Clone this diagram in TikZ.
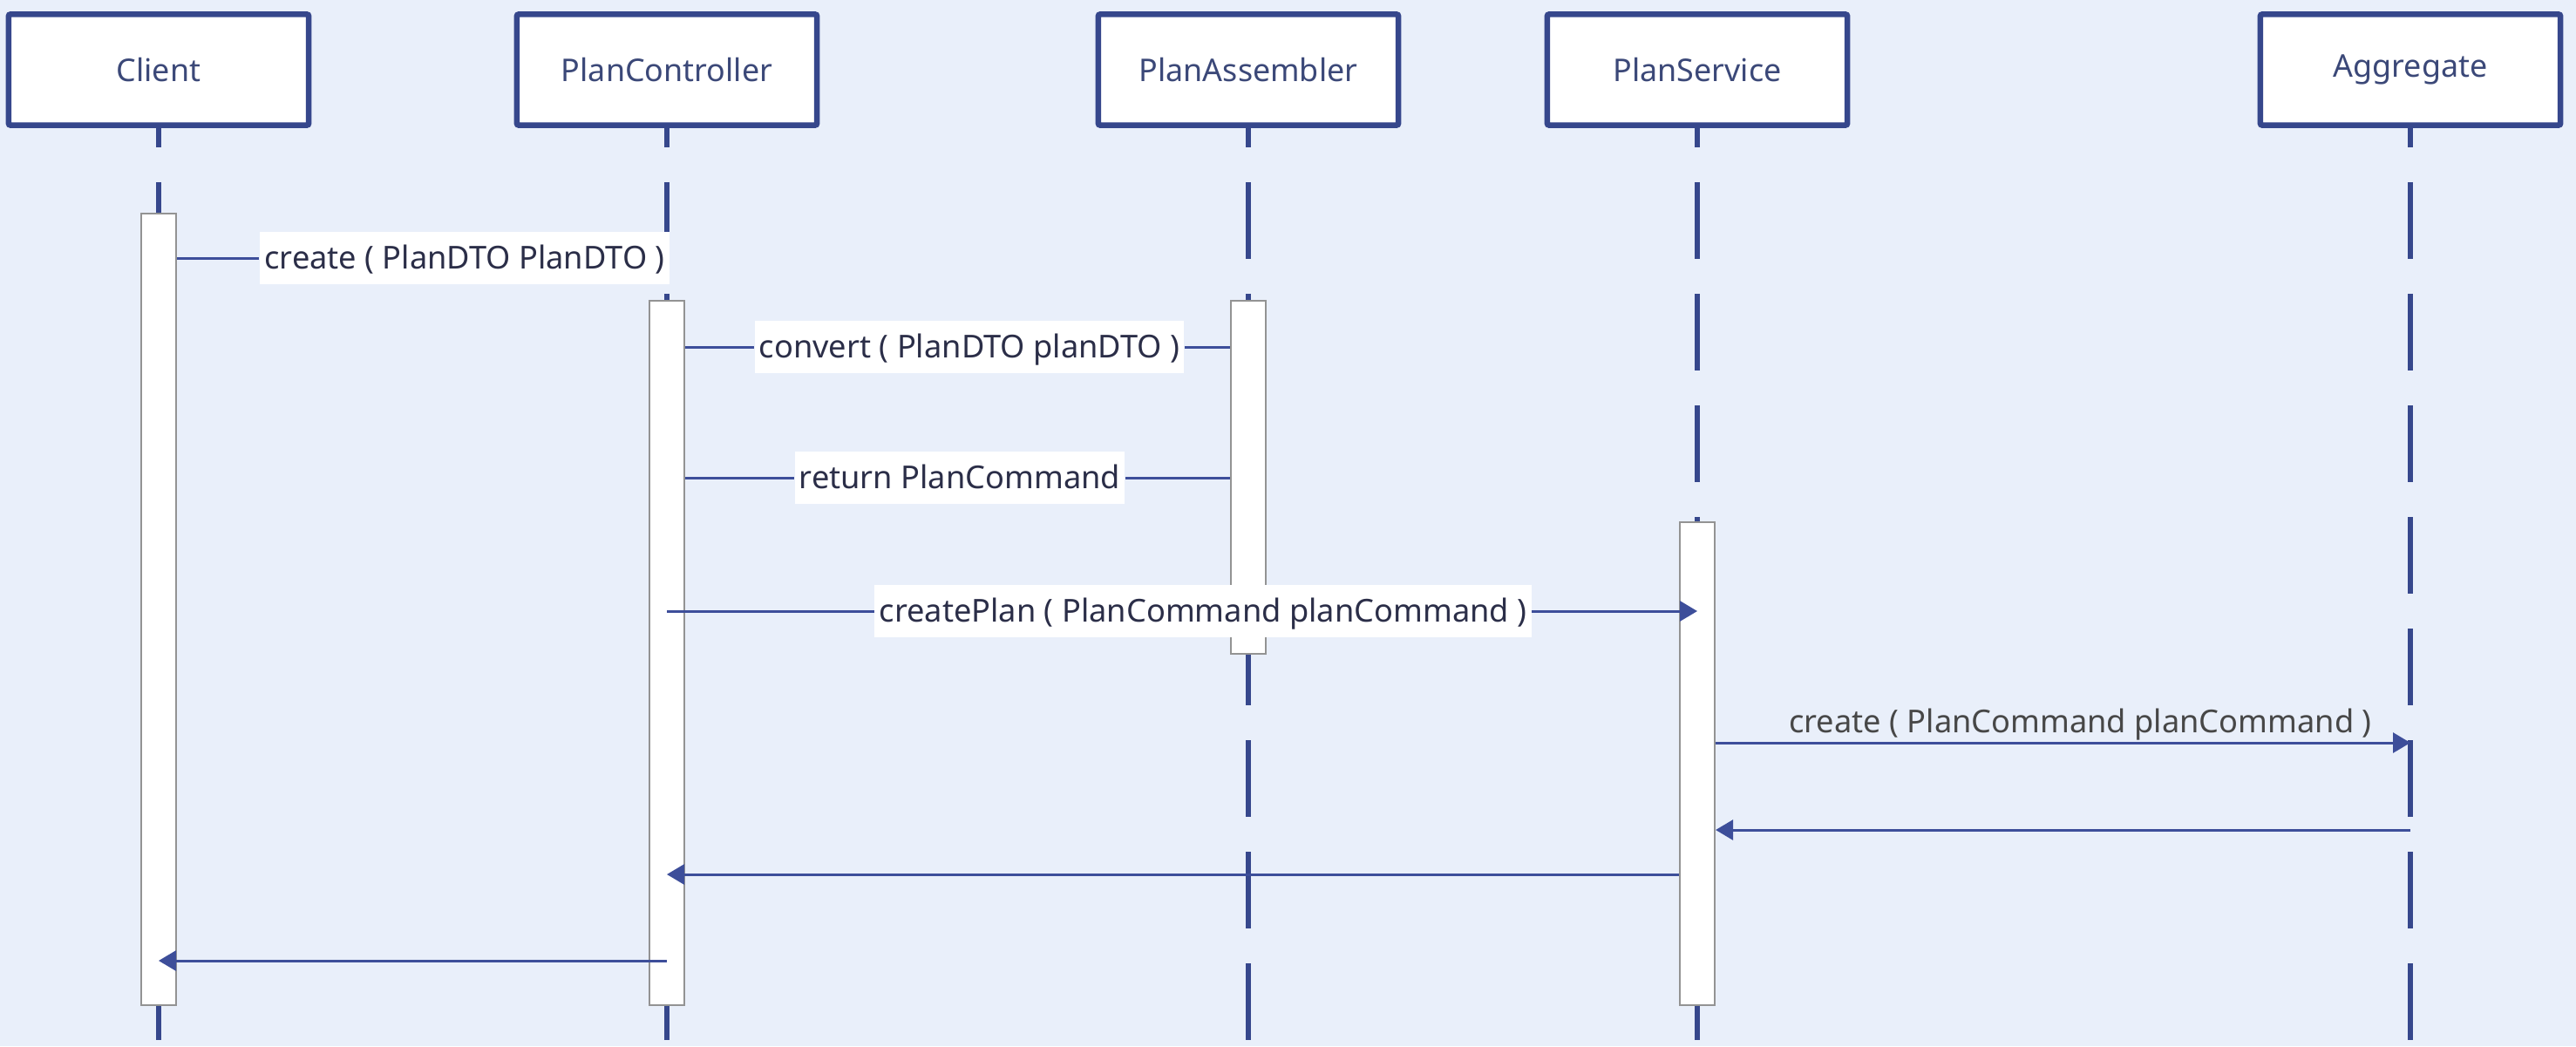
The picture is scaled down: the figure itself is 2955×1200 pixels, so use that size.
\documentclass[tikz,border=0pt]{standalone}
\usepackage{fontspec}
\setmainfont{Noto Sans}
\usetikzlibrary{arrows.meta}
\definecolor{bgblue}{HTML}{E9EFFA}
\definecolor{lineblue}{HTML}{36478C}
\definecolor{msgblue}{HTML}{3D4E9A}
\definecolor{txtblue}{HTML}{3B4878}
\definecolor{txtdark}{HTML}{2B2E48}

\begin{document}
\begin{tikzpicture}[x=0.01cm,y=-0.01cm]
    \tikzstyle{obj}=[draw=lineblue, line width=0.065cm, fill=white, rounded corners=0.02cm, minimum width=3.44cm, minimum height=1.27cm, text=txtblue, font=\fontsize{10.2}{12}\selectfont]
    \tikzstyle{lifeline}=[lineblue, line width=0.065cm, dash pattern=on 0.88cm off 0.4cm, dash phase=0.66cm]
    \tikzstyle{act}=[draw=gray!85, line width=0.6pt, fill=white, minimum width=0.4cm, inner sep=0pt]
    \tikzstyle{lbl}=[fill=white, text=txtdark, inner xsep=1.5pt, inner ysep=0.18cm, text height=0.24cm, text depth=0cm, font=\fontsize{10.3}{12}\selectfont]
    \tikzstyle{msg}=[msgblue, line width=0.03cm]
    \tikzstyle{call}=[msg, -{Triangle[length=0.2cm, width=0.23cm]}]
    \fill[bgblue] (0,0) rectangle (2955,1200);
    \useasboundingbox (0,0) rectangle (2955,1200);
    \node[obj] (client) at (182,80) {Client};
    \node[obj] (ctrl) at (765,80) {PlanController};
    \node[obj] (asm) at (1432,80) {PlanAssembler};
    \node[obj] (svc) at (1947,80) {PlanService};
    \node[obj] (agg) at (2765,80) {Aggregate};
    \foreach \o in {client,ctrl,asm,svc,agg}
        \draw[lifeline] (\o.south) -- (\o.south |- 0,1200);
    \node[act, minimum height=9.08cm] (clientact) at (182,699) {};
    \node[act, minimum height=8.08cm] (ctrlact) at (765,749) {};
    \node[act, minimum height=4.05cm] (asmact) at (1432,547.5) {};
    \node[act, minimum height=5.54cm] (svcact) at (1947,876) {};
    \node[lbl] (m1) at (533,296) {create ( PlanDTO PlanDTO )};
    \node[lbl] (m2) at (1112,398) {convert ( PlanDTO planDTO )};
    \node[lbl] (m3) at (1101,548) {return PlanCommand};
    \node[lbl] (m4) at (1380,701) {createPlan ( PlanCommand planCommand )};
    \draw[msg] (clientact.east |- m1) -- (m1.west);
    \draw[msg] (ctrlact.east |- m2) -- (m2.west) (m2.east) -- (asmact.west |- m2);
    \draw[msg] (ctrlact.east |- m3) -- (m3.west) (m3.east) -- (asmact.west |- m3);
    \draw[msg] (ctrlact |- m4) -- (m4.west);
    \draw[call] (m4.east) -- (svcact |- m4);
    \draw[call] (svcact.east |- 0,852) -- (agg |- 0,852) node[pos=0.525, above=0.1cm, inner sep=0pt, text depth=0pt, text=black!72, font=\fontsize{10.3}{12}\selectfont] (m5) {create ( PlanCommand planCommand )};
    \draw[call] (agg |- 0,952) -- (svcact.east |- 0,952);
    \draw[call] (svcact.west |- 0,1003) -- (ctrlact |- 0,1003);
    \draw[call] (ctrlact |- 0,1102) -- (clientact |- 0,1102);
\end{tikzpicture}
\end{document}
